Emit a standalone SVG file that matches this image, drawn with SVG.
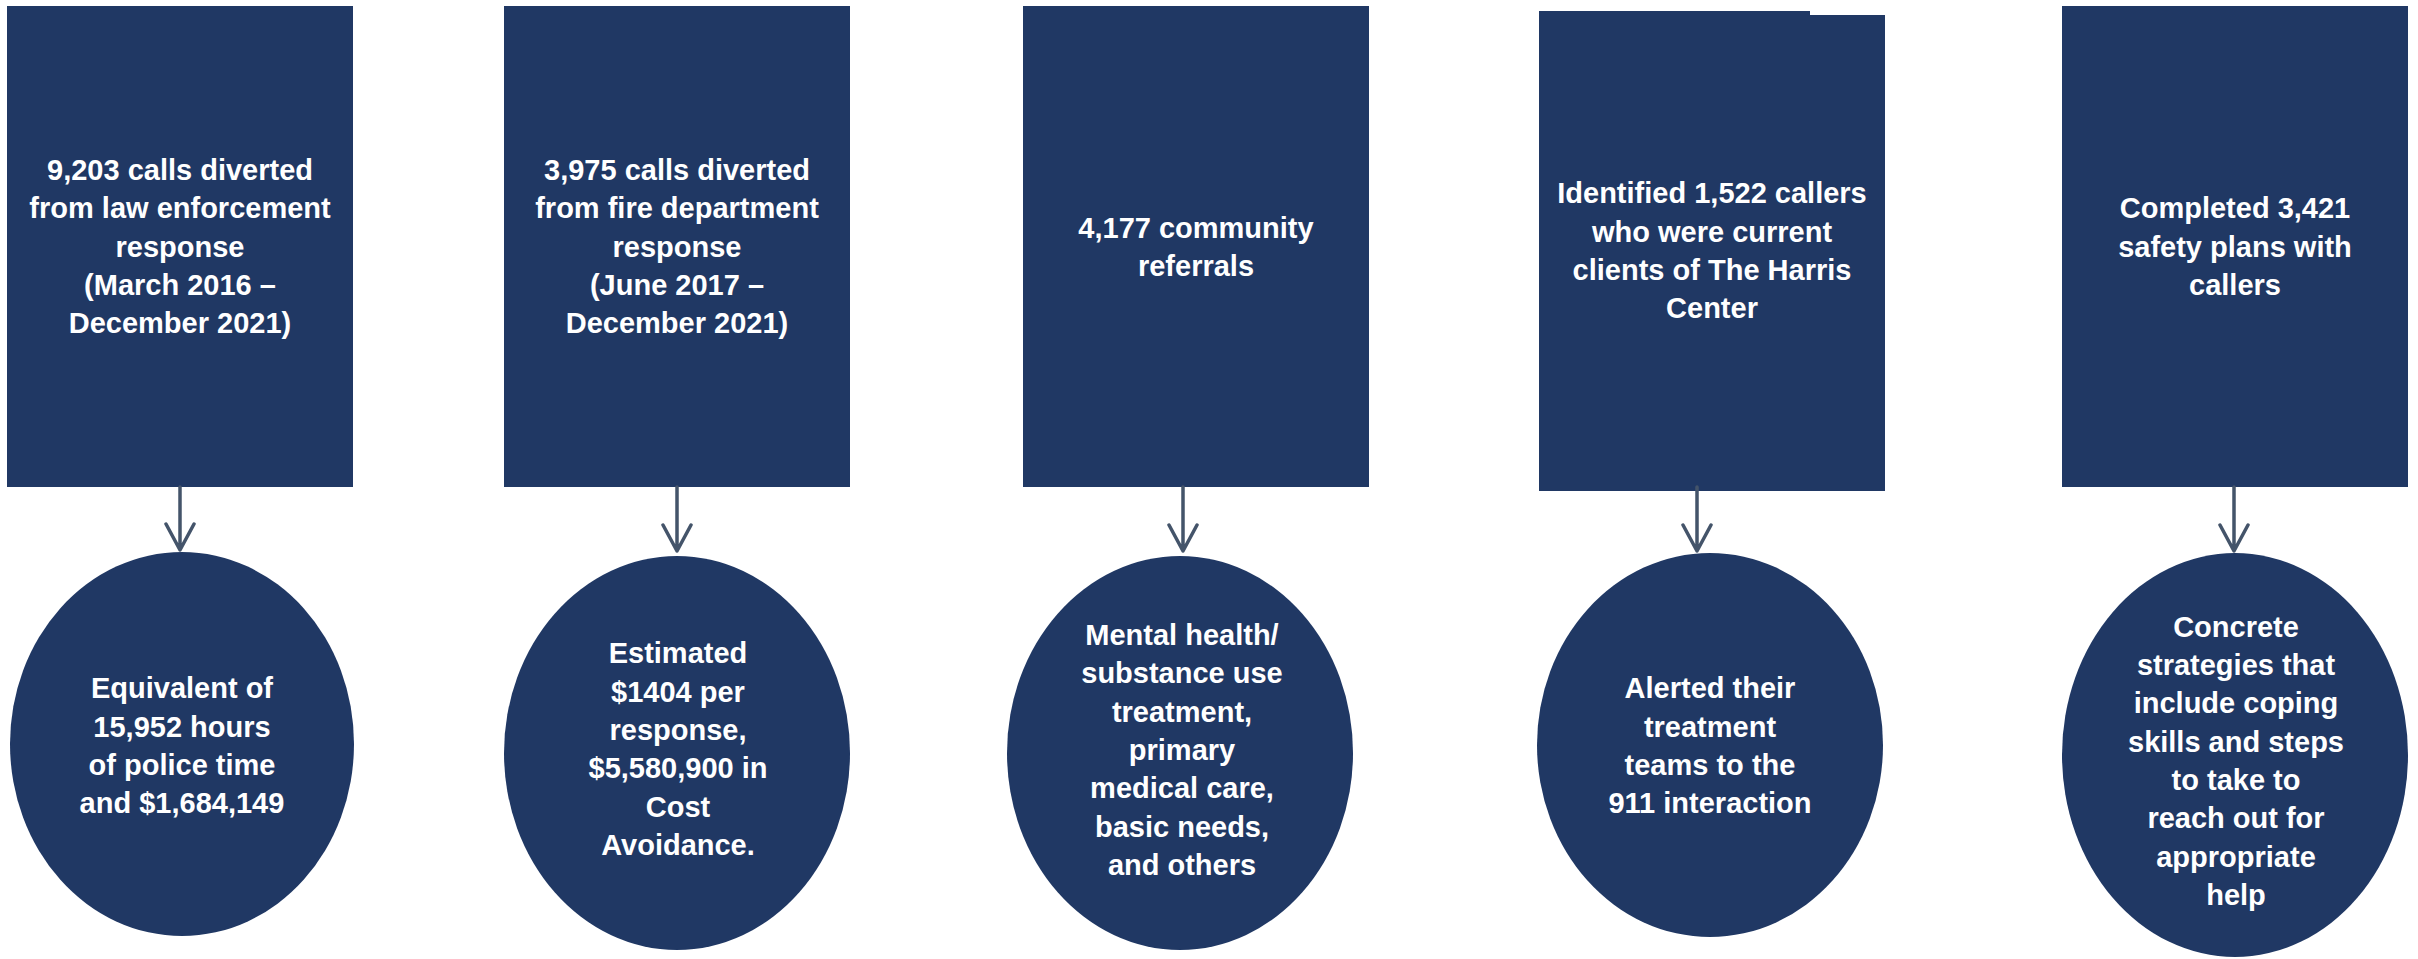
<svg xmlns="http://www.w3.org/2000/svg" width="2418" height="959" viewBox="0 0 2418 959">
<style>
.box{fill:#203864}
.t{font-family:"Liberation Sans",Arial,sans-serif;font-weight:bold;font-size:29px;fill:#ffffff;text-anchor:middle}
.c{stroke:#44546A;stroke-width:3.5;fill:none;stroke-linecap:round;stroke-linejoin:round}
</style>
<rect width="2418" height="959" fill="#ffffff"/>
<g id="box1">
<rect class="box" x="7" y="6" width="346" height="481"/>
<text class="t"><tspan x="180" y="180">9,203 calls diverted</tspan><tspan x="180" y="218">from law enforcement</tspan><tspan x="180" y="257">response</tspan><tspan x="180" y="295">(March 2016 –</tspan><tspan x="180" y="333">December 2021)</tspan></text>
</g>
<g id="box2">
<rect class="box" x="504" y="6" width="346" height="481"/>
<text class="t"><tspan x="677" y="180">3,975 calls diverted</tspan><tspan x="677" y="218">from fire department</tspan><tspan x="677" y="257">response</tspan><tspan x="677" y="295">(June 2017 –</tspan><tspan x="677" y="333">December 2021)</tspan></text>
</g>
<g id="box3">
<rect class="box" x="1023" y="6" width="346" height="481"/>
<text class="t"><tspan x="1196" y="238">4,177 community</tspan><tspan x="1196" y="276">referrals</tspan></text>
</g>
<g id="box4">
<path class="box" d="M1539 11 H1810 V15 H1885 V491 H1539 Z"/>
<text class="t"><tspan x="1712" y="203">Identified 1,522 callers</tspan><tspan x="1712" y="242">who were current</tspan><tspan x="1712" y="280">clients of The Harris</tspan><tspan x="1712" y="318">Center</tspan></text>
</g>
<g id="box5">
<rect class="box" x="2062" y="6" width="346" height="481"/>
<text class="t"><tspan x="2235" y="218">Completed 3,421</tspan><tspan x="2235" y="257">safety plans with</tspan><tspan x="2235" y="295">callers</tspan></text>
</g>
<g id="oval1">
<ellipse class="box" cx="182" cy="744" rx="172" ry="192"/>
<text class="t"><tspan x="182" y="698">Equivalent of</tspan><tspan x="182" y="737">15,952 hours</tspan><tspan x="182" y="775">of police time</tspan><tspan x="182" y="813">and $1,684,149</tspan></text>
</g>
<g id="oval2">
<ellipse class="box" cx="677" cy="753" rx="173" ry="197"/>
<text class="t"><tspan x="678" y="663">Estimated</tspan><tspan x="678" y="702">$1404 per</tspan><tspan x="678" y="740">response,</tspan><tspan x="678" y="778">$5,580,900 in</tspan><tspan x="678" y="817">Cost</tspan><tspan x="678" y="855">Avoidance.</tspan></text>
</g>
<g id="oval3">
<ellipse class="box" cx="1180" cy="753" rx="173" ry="197"/>
<text class="t"><tspan x="1182" y="645">Mental health/</tspan><tspan x="1182" y="683">substance use</tspan><tspan x="1182" y="722">treatment,</tspan><tspan x="1182" y="760">primary</tspan><tspan x="1182" y="798">medical care,</tspan><tspan x="1182" y="837">basic needs,</tspan><tspan x="1182" y="875">and others</tspan></text>
</g>
<g id="oval4">
<ellipse class="box" cx="1710" cy="745" rx="173" ry="192"/>
<text class="t"><tspan x="1710" y="698">Alerted their</tspan><tspan x="1710" y="737">treatment</tspan><tspan x="1710" y="775">teams to the</tspan><tspan x="1710" y="813">911 interaction</tspan></text>
</g>
<g id="oval5">
<ellipse class="box" cx="2235" cy="755" rx="173" ry="202"/>
<text class="t"><tspan x="2236" y="637">Concrete</tspan><tspan x="2236" y="675">strategies that</tspan><tspan x="2236" y="713">include coping</tspan><tspan x="2236" y="752">skills and steps</tspan><tspan x="2236" y="790">to take to</tspan><tspan x="2236" y="828">reach out for</tspan><tspan x="2236" y="867">appropriate</tspan><tspan x="2236" y="905">help</tspan></text>
</g>
<g id="connectors">
<path class="c" d="M180 487 V550 M166 524 L180 550 L194 524"/>
<path class="c" d="M677 487 V551 M663 525 L677 551 L691 525"/>
<path class="c" d="M1183 487 V551 M1169 525 L1183 551 L1197 525"/>
<path class="c" d="M1697 487 V551 M1683 525 L1697 551 L1711 525"/>
<path class="c" d="M2234 487 V551 M2220 525 L2234 551 L2248 525"/>
</g>
</svg>
